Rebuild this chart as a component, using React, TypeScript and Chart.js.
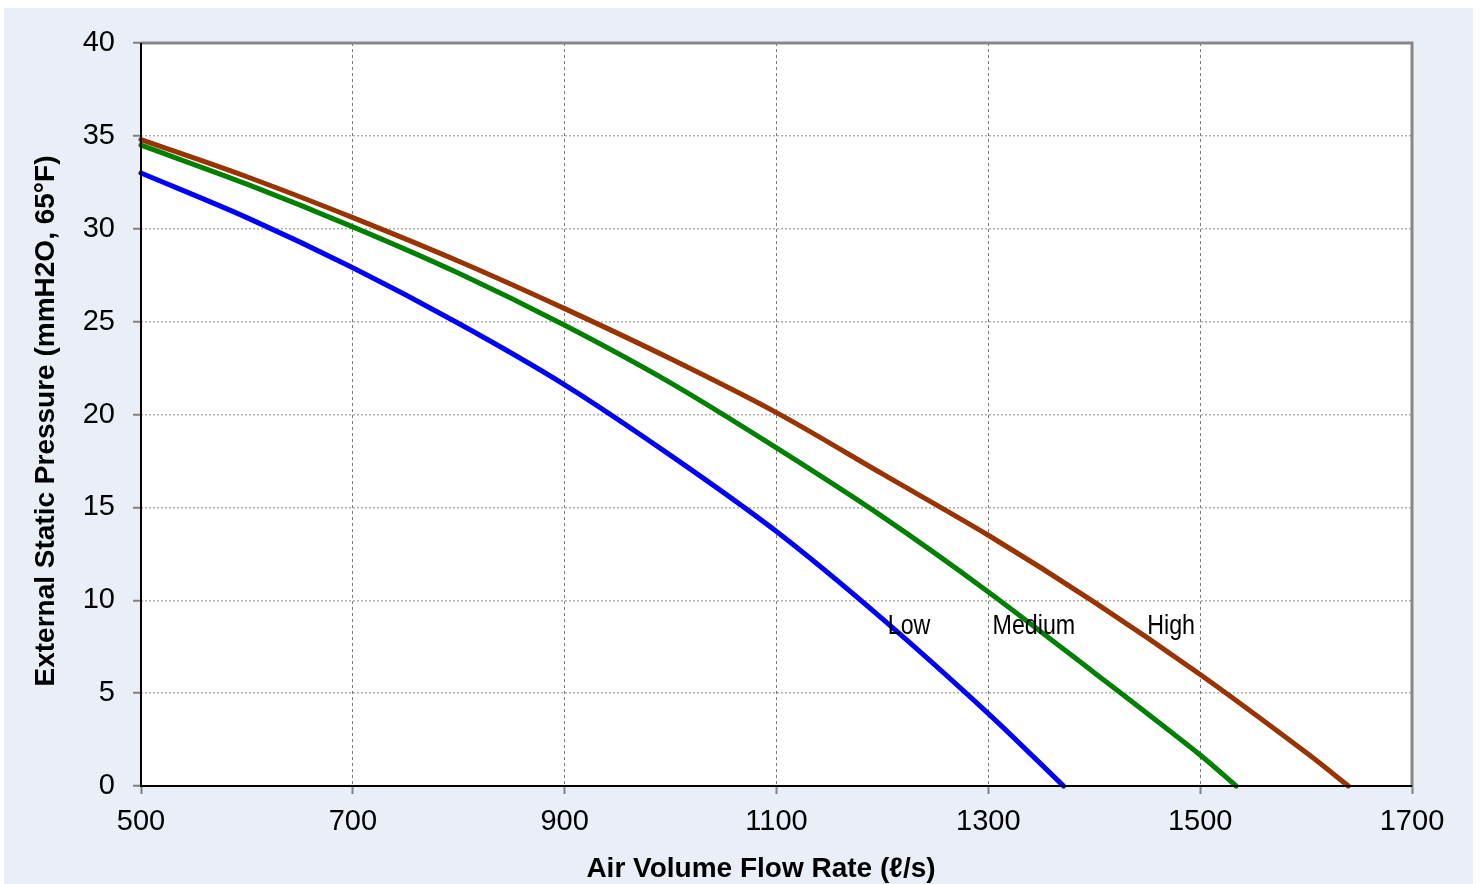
import { useEffect, useRef } from "react";
import { Chart, registerables } from "chart.js";

Chart.register(...registerables);

const lowFlow = [500, 600, 700, 800, 900, 1000, 1100, 1200, 1300, 1371];
const lowPressure = [33.0, 30.6, 27.9, 24.9, 21.6, 17.8, 13.7, 9.0, 3.9, 0];
const mediumFlow = [500, 600, 700, 800, 900, 1000, 1100, 1200, 1300, 1400, 1500, 1534];
const mediumPressure = [34.5, 32.4, 30.1, 27.6, 24.8, 21.7, 18.2, 14.5, 10.45, 6.1, 1.67, 0];
const highFlow = [500, 600, 700, 800, 900, 1000, 1100, 1200, 1300, 1400, 1500, 1600, 1640];
const highPressure = [34.8, 32.8, 30.6, 28.25, 25.7, 23.0, 20.1, 16.8, 13.5, 9.9, 6.0, 1.8, 0];

const seriesNames = ["Low", "Medium", "High"];
const seriesColors = ["#0000ff", "#008000", "#993300"];
const curveLabelFlow = [1205, 1304, 1450];
const curveLabelPressure = 8.2;

const xTitle = "Air Volume Flow Rate (ℓ/s)";
const yTitle = "External Static Pressure (mmH2O, 65°F)";
const xMin = 500, xMax = 1700, xStep = 200;
const yMin = 0, yMax = 40, yStep = 5;

const FONT = '"Liberation Sans", Arial, Helvetica, sans-serif';

const decor = {
  id: "decor",
  beforeDraw(chart: any) {
    const { ctx, chartArea: a } = chart;
    ctx.save();
    ctx.fillStyle = "#eaeff7";
    ctx.fillRect(4, 8, 1469, 876);
    ctx.fillStyle = "#ffffff";
    ctx.fillRect(a.left, a.top, a.right - a.left, a.bottom - a.top);
    ctx.restore();
  },
  afterDatasetsDraw(chart: any) {
    const { ctx, scales } = chart;
    ctx.save();
    ctx.fillStyle = "#000";
    ctx.font = `28px ${FONT}`;
    ctx.textAlign = "left";
    ctx.textBaseline = "alphabetic";
    seriesNames.forEach((name, i) => {
      const px = scales.x.getPixelForValue(curveLabelFlow[i]);
      const py = scales.y.getPixelForValue(curveLabelPressure);
      ctx.save();
      ctx.translate(px, py);
      ctx.scale(0.83, 1);
      ctx.fillText(name, 0, 0);
      ctx.restore();
    });
    ctx.restore();
  },
  afterDraw(chart: any) {
    const { ctx, chartArea: a } = chart;
    ctx.save();
    ctx.strokeStyle = "#878787";
    ctx.lineWidth = 3;
    ctx.beginPath();
    ctx.moveTo(a.left, a.top);
    ctx.lineTo(a.right, a.top);
    ctx.lineTo(a.right, a.bottom);
    ctx.stroke();
    ctx.strokeStyle = "#000";
    ctx.lineWidth = 2;
    ctx.beginPath();
    ctx.moveTo(a.left, a.top);
    ctx.lineTo(a.left, a.bottom);
    ctx.lineTo(a.right, a.bottom);
    ctx.stroke();

    ctx.fillStyle = "#000";
    ctx.font = `bold 28px ${FONT}`;
    ctx.textAlign = "center";
    ctx.textBaseline = "middle";
    ctx.fillText(xTitle, 761, 869);
    ctx.translate(46, 421);
    ctx.rotate(-Math.PI / 2);
    ctx.fillText(yTitle, 0, 0);
    ctx.restore();
  },
};

export default function App() {
  const ref = useRef<HTMLCanvasElement>(null);

  useEffect(() => {
    document.body.style.margin = "0";
    const canvas = ref.current;
    if (!canvas) return;
    const mk = (xs: number[], ys: number[]) => xs.map((x, i) => ({ x, y: ys[i] }));
    const datasets = [
      mk(lowFlow, lowPressure),
      mk(mediumFlow, mediumPressure),
      mk(highFlow, highPressure),
    ].map((data, i) => ({
      label: seriesNames[i],
      data,
      showLine: true,
      borderColor: seriesColors[i],
      backgroundColor: seriesColors[i],
      borderWidth: 5,
      pointRadius: 0,
      tension: 0.3,
      borderCapStyle: "round" as const,
      borderJoinStyle: "round" as const,
      clip: false as any,
    }));

    const chart = new Chart(canvas, {
      type: "scatter",
      data: { datasets },
      plugins: [decor],
      options: {
        animation: false,
        responsive: false,
        devicePixelRatio: 1,
        layout: { padding: { left: 4, top: 43, right: 68, bottom: 0 } },
        plugins: { legend: { display: false }, tooltip: { enabled: false }, title: { display: false } },
        scales: {
          x: {
            type: "linear",
            min: xMin,
            max: xMax,
            afterFit(scale: any) {
              scale.height = 98;
            },
            ticks: {
              stepSize: xStep,
              color: "#000",
              font: { size: 29, family: FONT },
              padding: 11,
              maxRotation: 0,
              callback: (v: any) => String(v),
            },
            grid: {
              color: "#7a7a7a",
              lineWidth: 1,
              tickLength: 8,
              tickColor: "#808080",
              tickBorderDash: [],
              tickWidth: 2,
            } as any,
            border: { display: false, dash: [3, 3] },
          },
          y: {
            type: "linear",
            min: yMin,
            max: yMax,
            afterFit(scale: any) {
              scale.width = 137;
            },
            ticks: {
              stepSize: yStep,
              color: "#000",
              font: { size: 29, family: FONT },
              padding: 18,
              callback: (v: any) => String(v),
            },
            grid: {
              color: "#b0b0b0",
              lineWidth: 1.5,
              tickLength: 8,
              tickColor: "#808080",
              tickBorderDash: [],
              tickWidth: 2,
            } as any,
            border: { display: false, dash: [2, 2] },
          },
        },
      },
    });
    return () => chart.destroy();
  }, []);

  return (
    <div style={{ width: 1480, height: 884, position: "relative" }}>
      <canvas ref={ref} width={1480} height={884} style={{ display: "block", width: 1480, height: 884 }} />
    </div>
  );
}
